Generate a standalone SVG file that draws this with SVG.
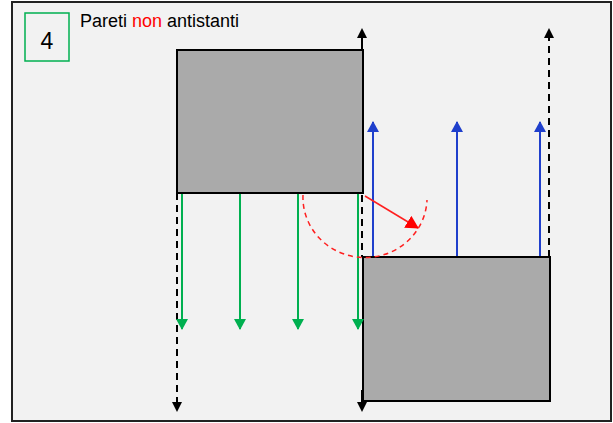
<svg xmlns="http://www.w3.org/2000/svg" width="613" height="423" viewBox="0 0 613 423">
<defs>
<style>
.wall{fill:#aaaaaa;stroke:#000;stroke-width:2}
.blk{stroke:#000;stroke-width:2;fill:none}
.dash{stroke-dasharray:7,5}
.grn{stroke:#00b050;stroke-width:2;fill:none}
.blu{stroke:#1f3fcc;stroke-width:2;fill:none}
.red{stroke:#ff2020;stroke-width:1.5;fill:none}
text{font-family:"Liberation Sans",Arial,sans-serif}
</style>
<marker id="ak" markerWidth="10" markerHeight="10" refX="8" refY="5" orient="auto" markerUnits="userSpaceOnUse"><path d="M0,0 L10,5 L0,10 Z" fill="#000"/></marker>
<marker id="ag" markerWidth="12" markerHeight="12" refX="10" refY="6" orient="auto" markerUnits="userSpaceOnUse"><path d="M0,0 L11,6 L0,12 Z" fill="#00b050"/></marker>
<marker id="ab" markerWidth="12" markerHeight="12" refX="10" refY="6" orient="auto" markerUnits="userSpaceOnUse"><path d="M0,0 L11,6 L0,12 Z" fill="#1f3fcc"/></marker>
<marker id="ar" markerWidth="14" markerHeight="14" refX="12" refY="7" orient="auto" markerUnits="userSpaceOnUse"><path d="M0,0 L13,7 L0,14 Z" fill="#ff0000"/></marker>
</defs>
<rect x="0" y="0" width="613" height="423" fill="#fff"/>
<rect x="12" y="2" width="599" height="419" fill="#f2f2f2" stroke="#222" stroke-width="2"/>
<g id="label">
<rect x="25" y="13" width="44" height="48" fill="none" stroke="#00b050" stroke-width="1.5"/>
<text x="47" y="49" font-size="23" text-anchor="middle">4</text>
<text x="80" y="27" font-size="18">Pareti <tspan fill="#ff0000">non</tspan> antistanti</text>
</g>
<g id="wall-top"><rect class="wall" x="177" y="50" width="186" height="143"/></g>
<g id="wall-bottom"><rect class="wall" x="363" y="257" width="187" height="144"/></g>
<g id="connectors">
<line class="blk dash" x1="177" y1="193" x2="177" y2="410" marker-end="url(#ak)"/>
<line class="blk" x1="362" y1="50" x2="362" y2="30" marker-end="url(#ak)"/>
<line class="blk dash" x1="362" y1="195" x2="362" y2="257"/>
<line class="blk" x1="362" y1="390" x2="362" y2="410" marker-end="url(#ak)"/>
<line class="blk dash" x1="549" y1="257" x2="549" y2="30" marker-end="url(#ak)"/>
<line class="grn" x1="182" y1="194" x2="182" y2="329" marker-end="url(#ag)"/>
<line class="grn" x1="240" y1="194" x2="240" y2="329" marker-end="url(#ag)"/>
<line class="grn" x1="298" y1="194" x2="298" y2="329" marker-end="url(#ag)"/>
<line class="grn" x1="358" y1="194" x2="358" y2="329" marker-end="url(#ag)"/>
<line class="blu" x1="373" y1="256" x2="373" y2="122" marker-end="url(#ab)"/>
<line class="blu" x1="457" y1="256" x2="457" y2="122" marker-end="url(#ab)"/>
<line class="blu" x1="540" y1="256" x2="540" y2="122" marker-end="url(#ab)"/>
<path class="red" stroke="#f07070" stroke-dasharray="5,4" d="M303,195 A62,60 0 0 0 427,200"/>
<line class="red" x1="365" y1="196" x2="418" y2="228" marker-end="url(#ar)"/>
</g>
</svg>
